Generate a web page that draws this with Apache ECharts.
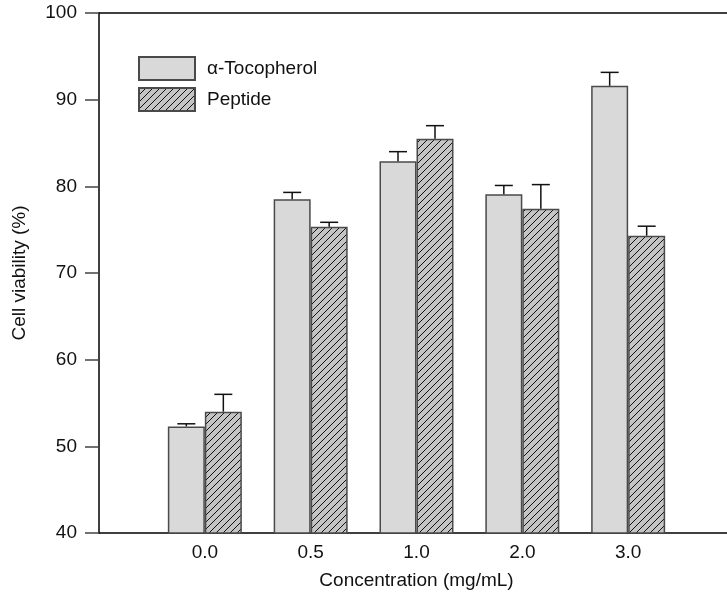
<!DOCTYPE html>
<html>
<head>
<meta charset="utf-8">
<script src="https://cdn.jsdelivr.net/npm/echarts@6/dist/echarts.min.js"></script>
<style>html,body{margin:0;padding:0;background:#fff;}#c{width:727px;height:599px;}</style>
</head>
<body>
<div id="c"></div>
<script>
// Data
const categories = ['', '0.0', '0.5', '1.0', '2.0', '3.0', ''];
const tocopherol = [null, 52.3, 78.5, 82.9, 79.1, 91.6, null];
const tocopherolErr = [null, 0.3, 0.8, 1.1, 1.0, 1.55, null];
const peptide = [null, 54.0, 75.35, 85.5, 77.4, 74.3, null];
const peptideErr = [null, 2.0, 0.5, 1.5, 2.8, 1.1, null];
const yTicks = [40, 50, 60, 70, 80, 90, 100];

// hatch pattern
function makeHatch() {
  const s = 7;
  const cv = document.createElement('canvas');
  cv.width = s; cv.height = s;
  const g = cv.getContext('2d');
  g.fillStyle = '#c4c4c4';
  g.fillRect(0, 0, s, s);
  g.strokeStyle = '#111';
  g.lineWidth = 1;
  g.beginPath();
  g.moveTo(-1, s + 1); g.lineTo(s + 1, -1);
  g.moveTo(-1, 1); g.lineTo(1, -1);
  g.moveTo(s - 1, s + 1); g.lineTo(s + 1, s - 1);
  g.stroke();
  return cv;
}
const hatch = { image: makeHatch(), repeat: 'repeat' };

const chart = echarts.init(document.getElementById('c'), null, { renderer: 'canvas' });
const font = '"Liberation Sans", Arial, sans-serif';
const FS = 19;

function errSeries(vals, errs, offset) {
  return {
    type: 'custom',
    silent: true,
    z: 5,
    data: vals.map((v, i) => [i, v, errs[i]]),
    renderItem: function (params, api) {
      const i = api.value(0), v = api.value(1), e = api.value(2);
      if (v == null || isNaN(v)) return null;
      const p0 = api.coord([i, v]);
      const p1 = api.coord([i, v + e]);
      const x = p0[0] + offset;
      const cap = 9;
      return {
        type: 'group',
        children: [
          { type: 'line', shape: { x1: x, y1: p0[1], x2: x, y2: p1[1] }, style: { stroke: '#111', lineWidth: 1.5 } },
          { type: 'line', shape: { x1: x - cap, y1: p1[1], x2: x + cap, y2: p1[1] }, style: { stroke: '#111', lineWidth: 1.5 } }
        ]
      };
    }
  };
}

const option = {
  animation: false,
  backgroundColor: '#fff',
  textStyle: { fontFamily: font },
  grid: { left: 99, top: 13, width: 635, bottom: 66, containLabel: false, outerBoundsMode: 'none' },
  legend: {
    orient: 'vertical',
    left: 133, top: 51,
    itemWidth: 56, itemHeight: 23, itemGap: 6,
    icon: 'rect',
    textStyle: { fontSize: FS, color: '#111', fontFamily: font, padding: [0, 0, 0, 7] },
    data: ['α-Tocopherol', 'Peptide']
  },
  xAxis: [{
    type: 'category',
    data: categories,
    boundaryGap: false,
    axisLine: { lineStyle: { color: '#000', width: 1.5 } },
    axisTick: { show: false },
    axisLabel: { fontSize: FS, color: '#111', margin: 10, fontFamily: font, interval: 0 },
    splitLine: { show: false },
    name: 'Concentration (mg/mL)',
    nameLocation: 'middle',
    nameGap: 38,
    nameTextStyle: { fontSize: FS, color: '#111', fontFamily: font }
  }, {
    type: 'value', position: 'top', min: 0, max: 1,
    axisLine: { show: true, lineStyle: { color: '#000', width: 1.5 } },
    axisTick: { show: false }, axisLabel: { show: false }, splitLine: { show: false }
  }],
  yAxis: {
    type: 'value',
    min: 40, max: 100, interval: 10,
    axisLine: { show: true, lineStyle: { color: '#000', width: 1.5 } },
    axisTick: { show: true, inside: false, length: 14, lineStyle: { color: '#444', width: 1.5 } },
    axisLabel: { fontSize: FS, color: '#111', margin: 22, fontFamily: font,
      formatter: v => yTicks.includes(v) ? String(v) : '' },
    splitLine: { show: false },
    name: 'Cell viability (%)',
    nameLocation: 'middle',
    nameGap: 70,
    nameTextStyle: { fontSize: FS, color: '#111', fontFamily: font }
  },
  series: [{
    name: 'α-Tocopherol',
    type: 'bar',
    data: tocopherol,
    barWidth: 37,
    barGap: '0%',
    itemStyle: { color: '#d9d9d9', borderColor: '#4a4a4a', borderWidth: 1.5 }
  }, {
    name: 'Peptide',
    type: 'bar',
    data: peptide,
    barWidth: 37,
    barGap: '0%',
    itemStyle: { color: hatch, borderColor: '#4a4a4a', borderWidth: 1.5 }
  },
  errSeries(tocopherol, tocopherolErr, -18.5),
  errSeries(peptide, peptideErr, 18.5)
  ]
};
chart.setOption(option);
</script>
</body>
</html>
